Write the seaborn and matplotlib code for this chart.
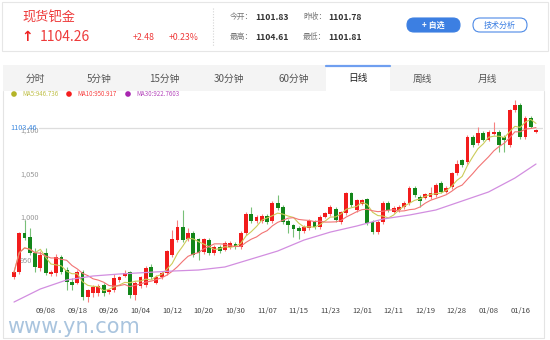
import numpy as np
import pandas as pd
import matplotlib
matplotlib.use('Agg')
import matplotlib.pyplot as plt
from matplotlib.patches import Rectangle, FancyBboxPatch, Circle
from matplotlib.lines import Line2D
from matplotlib.transforms import IdentityTransform
import seaborn as sns

# ============================================================
# 数据
# ============================================================

opens = [931, 937, 982, 978, 959, 942, 959, 935, 936, 954,
         939, 926, 925, 937, 908, 913, 913, 922, 914, 916,
         928, 933, 937, 911, 921, 922, 943, 925, 931, 936,
         957, 974, 989, 975, 982, 975, 960, 974, 959, 966,
         963, 966, 970, 966, 982, 1004, 996, 996, 1002, 996,
         1017, 1012, 996, 991, 988, 984, 988, 995, 989, 1001,
         1004, 1010, 995, 1005, 1028, 1009, 1016, 1021, 995, 983,
         995, 1017, 1007, 1009, 1012, 1017, 1034, 1024, 1023, 1024,
         1026, 1040, 1030, 1035, 1051, 1066, 1064, 1093, 1086, 1098,
         1090, 1097, 1099, 1093, 1084, 1124, 1130, 1093, 1115, 1099]
closes = [937, 982, 976, 959, 943, 957, 936, 937, 954, 937,
          926, 922, 937, 908, 916, 920, 921, 913, 916, 930,
          931, 936, 911, 925, 931, 942, 931, 932, 936, 961,
          975, 989, 974, 982, 957, 959, 975, 959, 966, 961,
          971, 971, 966, 982, 1004, 996, 1001, 1002, 995, 1017,
          1011, 995, 991, 987, 984, 989, 996, 989, 1001, 1005,
          1012, 997, 1006, 1028, 1014, 1020, 1020, 994, 983, 995,
          1017, 1009, 1011, 1012, 1017, 1034, 1026, 1019, 1027, 1028,
          1038, 1030, 1034, 1051, 1062, 1061, 1093, 1084, 1098, 1090,
          1099, 1099, 1084, 1090, 1124, 1130, 1093, 1115, 1105, 1101]
highs = [940, 983, 997, 988, 965, 962, 965, 939, 958, 957,
         943, 930, 940, 940, 918, 922, 923, 925, 918, 935,
         933, 940, 938, 927, 933, 944, 946, 934, 938, 963,
         986, 997, 1009, 988, 984, 977, 977, 976, 968, 968,
         973, 973, 972, 984, 1006, 1012, 1003, 1004, 1004, 1019,
         1026, 1014, 998, 993, 990, 991, 998, 997, 1003, 1007,
         1014, 1012, 1008, 1030, 1030, 1022, 1022, 1023, 997, 997,
         1019, 1019, 1013, 1014, 1019, 1036, 1036, 1026, 1029, 1035,
         1040, 1042, 1036, 1053, 1066, 1068, 1095, 1095, 1105, 1100,
         1101, 1110, 1101, 1095, 1126, 1136, 1132, 1117, 1117, 1102]
lows = [929, 935, 974, 957, 937, 938, 934, 933, 933, 935,
        916, 916, 923, 905, 902, 908, 910, 910, 912, 914,
        926, 931, 907, 905, 919, 920, 929, 923, 929, 934,
        955, 972, 972, 973, 954, 951, 958, 957, 957, 959,
        961, 964, 964, 964, 980, 994, 994, 994, 993, 994,
        1009, 993, 982, 978, 975, 982, 986, 987, 987, 999,
        1002, 995, 993, 1003, 1012, 1007, 1014, 992, 981, 981,
        993, 1007, 1005, 1007, 1010, 1015, 1024, 1012, 1021, 1022,
        1024, 1028, 1028, 1033, 1049, 1058, 1062, 1082, 1084, 1088,
        1088, 1095, 1076, 1076, 1082, 1122, 1091, 1091, 1103, 1098]

# MA30 读数 (每5根K线一个点)
ma30_idx = [0, 5, 10, 15, 20, 25, 30, 35, 40, 45, 50,
            55, 60, 65, 70, 75, 80, 85, 90, 95, 99]
ma30_val = [902.5, 917.6, 928.0, 932.6, 934.9, 936.6, 938.3, 939.5, 943.0, 952.2, 961.4,
            974.1, 983.3, 990.3, 998.4, 1003.0, 1008.8, 1019.2, 1029.6, 1045.7, 1061.9]

date_idx = [6, 12, 18, 24, 30, 36, 42, 48, 54, 60, 66, 72, 78, 84, 90, 96]
date_labels = ['09/08', '09/18', '09/26', '10/04', '10/12', '10/20', '10/30', '11/07',
               '11/15', '11/23', '12/01', '12/11', '12/19', '12/28', '01/08', '01/16']

y_ticks = [950, 1000, 1050, 1100]
y_tick_labels = ['950', '1,000', '1,050', '1,100']
last_price = 1103.46

tabs = ['分时', '5分钟', '15分钟', '30分钟', '60分钟', '日线', '周线', '月线']
active_tab = '日线'

legend_texts = ['MA5:946.736', 'MA10:950.917', 'MA30:922.7603']

# ============================================================
# 样式
# ============================================================

sns.set_style('white')
plt.rcParams['font.family'] = ['Noto Sans CJK SC', 'DejaVu Sans']
plt.rcParams['axes.unicode_minus'] = False

W, H = 550, 340
T = IdentityTransform()

RED = '#f21c1c'
GREEN = '#13861a'
RED_W = '#f78080'
GREEN_W = '#78c078'
MA_COLORS = ['#cccc5a', '#f27474', '#d28ee0']
DOT_COLORS = ['#b4b428', '#f51e1e', '#a826b0']

fig = plt.figure(figsize=(W / 100, H / 100), dpi=100)


def put(x, y, s, **kw):
    fig.text(x, H - y, s, transform=T, **kw)


def box(x0, y0, x1, y1, **kw):
    fig.add_artist(Rectangle((x0, H - y1), x1 - x0, y1 - y0, transform=T, **kw))


# ------------------------------------------------------------
# 顶部行情栏
# ------------------------------------------------------------
box(2, 2, 548, 51, facecolor='white', edgecolor='#e6e6e6', lw=0.8)

put(22, 18, '现货钯金', color='#ee3b3b', fontsize=9.5, va='center')
put(21, 37, '↑', color='#ee2222', fontsize=10, fontweight='bold', va='center',
    family=['DejaVu Sans'])
put(40, 37, '1104.26', color='#ee3b3b', fontsize=10, va='center')
put(133, 37, '+2.48', color='#ee3b3b', fontsize=6.3, va='center')
put(169, 37, '+0.23%', color='#ee3b3b', fontsize=6.3, va='center')

fig.add_artist(Line2D([213, 213], [H - 8, H - 46], transform=T,
                      color='#d5d5d5', lw=0.8, ls=(0, (1, 1.5))))

quote = [('今开：', '1101.83', 230, 17), ('昨收：', '1101.78', 303, 17),
         ('最高：', '1104.61', 230, 37), ('最低：', '1101.81', 303, 37)]
for lab, val, qx, qy in quote:
    put(qx, qy, lab, color='#777777', fontsize=5.6, va='center')
    put(qx + 25, qy, val, color='#333333', fontsize=6.2, fontweight='bold', va='center')

fig.add_artist(FancyBboxPatch((407, H - 32), 53, 14, boxstyle='round,pad=0,rounding_size=7',
                              transform=T, facecolor='#3c7fe2', edgecolor='#3c7fe2', lw=0.8))
put(433.5, 25, '+ 自选', color='white', fontsize=5.8, ha='center', va='center',
    fontweight='bold')
fig.add_artist(FancyBboxPatch((473, H - 32), 54, 14, boxstyle='round,pad=0,rounding_size=7',
                              transform=T, facecolor='white', edgecolor='#4d8ae6', lw=0.8))
put(500, 25, '技术分析', color='#3c7fe2', fontsize=5.8, ha='center', va='center')

# ------------------------------------------------------------
# 周期选项卡
# ------------------------------------------------------------
box(3, 65, 545, 91, facecolor='#f4f4f4', edgecolor='none')
tab_w = 64.6
for k, name in enumerate(tabs):
    cx = 35 + k * tab_w
    if name == active_tab:
        box(cx - 32, 65, cx + 32, 91, facecolor='white', edgecolor='none')
        fig.add_artist(Line2D([cx - 32, cx + 32], [H - 65.7, H - 65.7], transform=T,
                              color='#6f9ff0', lw=1.6))
        put(cx, 78.5, name, color='#222222', fontsize=7, ha='center', va='center')
    else:
        put(cx, 78.5, name, color='#555555', fontsize=7, ha='center', va='center')

# 图区边框
fig.add_artist(Line2D([3, 3, 543.5, 543.5], [H - 91, H - 338, H - 338, H - 91],
                      transform=T, color='#e4e4e4', lw=0.8))

# 均线图例
for k, (lx, txt) in enumerate(zip([14, 69, 128], legend_texts)):
    fig.add_artist(Circle((lx, H - 94), 2.1, transform=T, color=DOT_COLORS[k]))
    put(lx + 8, 94, txt, color=DOT_COLORS[k], fontsize=4.4, va='center', alpha=0.85)

# ------------------------------------------------------------
# K线图
# ------------------------------------------------------------
ax = fig.add_axes([3 / W, 1 - 303 / H, 540 / W, 208 / H])
ax.set_facecolor('none')

df = pd.DataFrame({'i': np.arange(len(closes)), 'open': opens, 'close': closes,
                   'high': highs, 'low': lows})
df['ma5'] = df['close'].rolling(5, min_periods=1).mean()
df['ma10'] = df['close'].rolling(10, min_periods=1).mean()
up = df['close'] >= df['open']

ax.axhline(last_price, xmin=36 / 540, xmax=1, color='#dddddd', lw=0.9, zorder=1)

ax.vlines(df['i'], df['low'], df['high'], colors=np.where(up, RED_W, GREEN_W),
          lw=0.8, zorder=2)
ax.bar(df['i'], np.maximum((df['close'] - df['open']).abs(), 0.9),
       bottom=np.minimum(df['open'], df['close']), width=0.72,
       color=np.where(up, RED, GREEN), linewidth=0, zorder=3)

sns.lineplot(data=df, x='i', y='ma5', ax=ax, color=MA_COLORS[0], lw=0.8, zorder=4)
sns.lineplot(data=df, x='i', y='ma10', ax=ax, color=MA_COLORS[1], lw=0.8, zorder=4)
sns.lineplot(x=ma30_idx, y=ma30_val, ax=ax, color=MA_COLORS[2], lw=0.9, zorder=4)

ax.set_xlim((3 - 14) / 5.2727, (543 - 14) / 5.2727)
ax.set_ylim(901.4, 1141.6)

ax.set_xticks(date_idx, labels=date_labels)
ax.tick_params(axis='x', length=0, pad=3, labelsize=5.5, labelcolor='#444444')
ax.set_yticks([])
ax.set_xlabel('')
ax.set_ylabel('')
sns.despine(ax=ax, left=True, bottom=True)

for v, lab in zip(y_ticks, y_tick_labels):
    ax.text(17 / 540, v, lab, transform=ax.get_yaxis_transform(), fontsize=5.3,
            color='#999999', va='center', ha='left', zorder=5)
ax.text(7 / 540, last_price, f'{last_price:.2f}', transform=ax.get_yaxis_transform(),
        fontsize=5.3, color='#3f8ae0', va='center', ha='left', zorder=6)

# 水印
put(7, 327, 'www.yn.com', color='#a9c4de', fontsize=15, va='center',
    family=['DejaVu Sans'])

plt.savefig('out.png', dpi=100)
